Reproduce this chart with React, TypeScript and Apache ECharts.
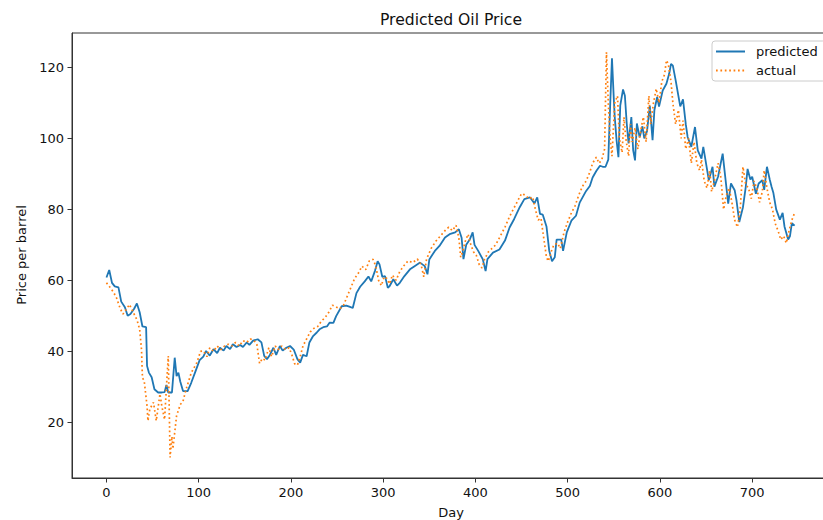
import React, { useEffect, useRef } from "react";
import * as echarts from "echarts";

const titleText = "Predicted Oil Price";
const xName = "Day";
const yName = "Price per barrel";
const xTicks = [0, 100, 200, 300, 400, 500, 600, 700];
const yTicks = [20, 40, 60, 80, 100, 120];

const predDays = [0,3,6,9,13,16,20,23,26,30,33,36,39,43,44,46,49,52,56,60,63,65,67,71,74,76,78,80,83,88,92,96,101,105,108,112,116,120,123,127,130,134,137,141,145,148,152,155,159,164,168,171,174,177,181,184,188,191,195,199,203,207,210,213,217,220,224,228,231,235,239,242,246,249,255,260,264,267,271,275,280,284,287,291,294,296,299,302,305,307,311,315,318,323,329,334,340,345,348,350,356,361,367,372,378,382,385,387,390,394,397,399,403,408,411,413,419,426,432,437,442,448,453,459,464,467,470,473,477,480,483,486,488,493,495,499,504,509,513,517,520,524,527,531,535,538,541,544,546,548,550,551,553,555,557,560,562,564,566,569,571,573,575,578,581,583,586,589,592,594,597,599,603,607,610,612,614,617,620,622,625,628,630,634,638,641,645,647,650,653,657,659,663,668,670,674,677,681,683,686,690,693,695,698,700,704,707,711,713,716,719,721,723,726,730,733,735,739,741,743,746];
const predValues = [60.8,62.9,59.3,58.3,58,54,52.4,50,50.5,52,53.5,51,47,46.8,35.9,34,32.7,29.3,28.4,28.4,28.5,30.5,28.4,28.4,38.2,33,34,31.5,28.8,28.8,31.2,34,37.5,38.5,40.1,38.8,40.6,39.5,41,40.2,41.5,40.6,42,41.2,41.8,41.2,42.5,41.8,43,43.4,42.5,38.7,37.8,38.9,41,39,41.5,40.2,41,41.5,40.5,37.8,36.8,39,38.6,42.5,44.3,45.3,46.2,46.8,47,48.1,48,49.9,52.7,52.9,52.5,52.2,56.4,58.2,59.7,61.1,59.7,62.6,65.4,64.5,61,61.2,57.9,58.4,60.3,58.5,59.3,61.2,63.1,64,65,64,61.7,65.9,68.3,69.7,72.1,73,73.5,74.4,72,66,70,71.6,73.5,70,68.3,65.9,62.6,66,67.8,68.7,71.2,74.9,77.3,80.6,82.9,83.4,81.7,83.4,78.7,78.5,75.2,68.3,65.4,66.5,71.5,71.5,68.3,73.5,76.8,78.2,81.9,83.8,85.2,86.6,89,90.8,92.3,92,92,94,109,122.6,111,106,99.4,94.7,109.3,113.8,112,104.2,98.6,106,96.6,93.8,104.2,100.3,103.4,100,102,109.2,99.5,108,111.7,109,113.5,115.4,118.2,121,120.5,116.4,112,109,111,104,100.4,97.6,103.2,96.6,94.3,97.6,92.9,88.2,92,86.4,89.2,95.7,91,81.6,87.3,85.4,82.5,76.4,80.6,86.3,91.4,88.4,89.2,84.4,87.3,88.2,85.5,92,88.4,86.4,84.6,80,77.1,79,75.2,71.5,72.5,76.1,75.4];

const actDays = [0,4,8,11,15,18,22,25,29,33,36,38,39,41,44,45,47,51,54,58,60,63,67,69,71,72,76,80,83,86,92,98,102,105,109,112,116,120,124,128,132,136,140,144,148,152,156,160,163,166,169,172,176,179,183,186,190,194,198,201,204,207,210,213,217,221,225,229,233,237,241,245,249,253,257,261,265,269,273,277,281,285,289,292,295,298,301,304,307,310,314,318,322,327,332,337,341,344,347,352,357,362,367,371,375,379,382,384,386,389,392,395,398,401,404,407,410,414,418,422,427,432,437,441,446,450,454,458,462,465,468,471,474,477,479,482,485,489,492,496,500,504,508,512,516,520,524,527,531,534,537,540,542,544,546,548,551,554,556,559,561,563,566,568,570,573,576,579,582,585,588,590,593,596,599,602,605,607,609,612,614,617,620,623,625,628,631,634,637,640,643,645,648,651,654,656,659,663,666,669,672,675,678,681,684,687,690,693,696,699,702,705,708,711,713,716,719,722,725,728,731,734,737,740,743,746];
const actValues = [59.3,58,56.5,55,52,50.5,52,53.2,51,48.9,46.2,40.5,32.6,31.5,24.6,20.4,23.7,25.6,20.4,28,24.6,20.8,38.7,10.1,16,12.5,21.8,25,25.9,29,34,36.8,40,40.1,38.5,41,40,41.5,40.5,41.5,42,41.5,42.5,41.5,43,42.5,43.5,43,42,36.6,38,37.5,41,38.5,41.5,40.5,41.5,40.5,41,39,36.5,36.1,38.5,41.5,43.5,45.5,46.5,47,48.5,49.5,51,53,52.5,52,53,55.5,58,60.5,62,64,63,65.5,65.9,64,60,58.5,61,60.5,59,61.5,60,62.5,64,65.5,65,66,64.5,61,66,69,71,72.5,74,75,74,75.5,72,66.5,68,71,73,70,68,67,64.5,63.5,66,68,69,70,72.5,75,78,80,82.5,84.5,84,83,83.5,80,77,77.5,72,66.5,65.4,68,70,70.5,69,73.5,76.5,79,81,84,86.5,88,90.5,93,94.7,93,94,97,124.3,110,100,95,110,112,100,96,106,100,95,104,99,103,97,102,106,99,112,104,110,114,110,116,118,122,121,116,110,104,108,100,105,97,100,93,99,93,91,94,88,86,91,85,88,93,89,80,84,86,82,77,75,80,92,87,86,83,88,86,82,85,91,86,82,80,76,74,71.5,72.5,70.5,74,77,79];

const FONT = "'DejaVu Sans', sans-serif";

export default function App() {
  const ref = useRef<HTMLDivElement>(null);
  useEffect(() => {
    if (!ref.current) return;
    const chart = echarts.init(ref.current, null, { renderer: "svg" });
    const axisColor = "#333";
    chart.setOption({
      animation: false,
      backgroundColor: "#fff",
      textStyle: { fontFamily: FONT },
      grid: {
        left: 72, top: 33, width: 758, height: 445,
        show: true, borderColor: axisColor, borderWidth: 1, backgroundColor: "transparent",
      },
      xAxis: {
        type: "value", min: -37.35, max: 784.35,
        splitLine: { show: false },
        axisLine: { show: true, onZero: false, lineStyle: { color: axisColor, width: 1 } },
        axisTick: { show: true, length: 4.5, customValues: xTicks, lineStyle: { color: axisColor } },
        axisLabel: { customValues: xTicks, margin: 8, fontSize: 13, color: "#111", fontFamily: FONT },
      },
      yAxis: {
        type: "value", min: 4.3, max: 129.7,
        splitLine: { show: false },
        axisLine: { show: true, onZero: false, lineStyle: { color: axisColor, width: 1 } },
        axisTick: { show: true, length: 4.5, customValues: yTicks, lineStyle: { color: axisColor } },
        axisLabel: { customValues: yTicks, margin: 8, fontSize: 13, color: "#111", fontFamily: FONT },
      },
      legend: {
        orient: "vertical", left: 712, top: 41,
        itemWidth: 29, itemHeight: 14, itemGap: 6,
        padding: [4, 8, 4, 3],
        borderColor: "#ccc", borderWidth: 1, borderRadius: 3,
        backgroundColor: "rgba(255,255,255,0.8)",
        itemStyle: { opacity: 0 },
        textStyle: { fontSize: 13, color: "#111", fontFamily: FONT, padding: [0, 0, 0, 6] },
        data: ["predicted", "actual"],
      },
      graphic: [
        { type: "text", style: { text: titleText, x: 451, y: 20, align: "center", verticalAlign: "middle", fontSize: 15.6, fill: "#111", fontFamily: FONT } },
        { type: "text", style: { text: xName, x: 451, y: 512, align: "center", verticalAlign: "middle", fontSize: 13, fill: "#111", fontFamily: FONT } },
        { type: "text", x: 21, y: 255, rotation: Math.PI / 2, style: { text: yName, x: 0, y: 0, align: "center", verticalAlign: "middle", fontSize: 13, fill: "#111", fontFamily: FONT } },
      ],
      series: [
        {
          name: "predicted", type: "line", symbol: "none", showSymbol: false,
          data: predDays.map((d, i) => [d, predValues[i]]),
          lineStyle: { color: "#1f77b4", width: 1.8 },
          itemStyle: { color: "#1f77b4" },
          z: 2,
        },
        {
          name: "actual", type: "line", symbol: "none", showSymbol: false,
          data: actDays.map((d, i) => [d, actValues[i]]),
          lineStyle: { color: "#ff7f0e", width: 1.7, type: [1.7, 2.7] },
          itemStyle: { color: "#ff7f0e" },
          z: 3,
        },
      ],
    });
    return () => chart.dispose();
  }, []);
  return <div ref={ref} style={{ position: "fixed", left: 0, top: 0, width: 840, height: 520 }} />;
}
